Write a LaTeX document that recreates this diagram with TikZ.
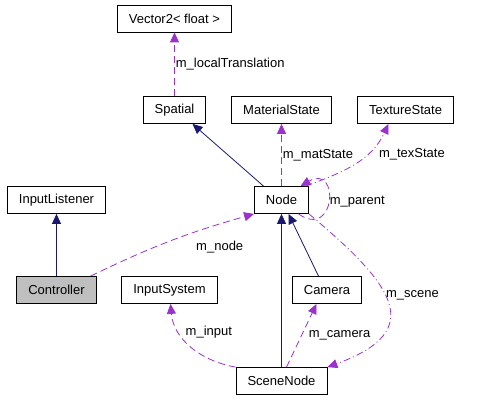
\documentclass[tikz,border=0pt]{standalone}
\usepackage{fontspec}
\setmainfont{Liberation Sans}
\usepackage{tikz}
\usetikzlibrary{arrows.meta}
\definecolor{inhcol}{HTML}{191970}
\definecolor{usecol}{HTML}{9A32CD}
\definecolor{ctlfill}{HTML}{BFBFBF}

\begin{document}
\begin{tikzpicture}[x=1pt,y=1pt,->,>={Triangle[length=10pt,width=9pt]},node distance=90pt,
		line width=0.8pt,font=\fontsize{13pt}{15pt}\selectfont]
		\tikzstyle{class}=[draw=black,fill=white,text=black,rectangle,minimum height=27pt,inner xsep=11.5pt,inner ysep=0pt]
		\tikzstyle{inherit}=[inhcol]
		\tikzstyle{usage}=[usecol,dash pattern=on 7pt off 4pt]
		\tikzstyle{usage2}=[usecol,dash pattern=on 7pt off 3pt on 1pt off 3pt]
		\tikzstyle{lbl}=[text=black,inner sep=1pt]
		
		\useasboundingbox (0,0) rectangle (479,400);
		
		\node[class] (vec) at (174.5,381.5) {Vector2< float >};
		\node[class] (spatial) [below of=vec,node distance=91.5pt] {Spatial};
		\node[class] (matstate) [right of=spatial,node distance=107pt] {MaterialState};
		\node[class] (texstate) [right of=matstate,node distance=124pt] {TextureState};
		\node[class] (node) [below of=matstate] {Node};
		\node[class] (listener) [left of=node,node distance=225pt] {InputListener};
		\node[class,fill=ctlfill] (controller) [below of=listener] {Controller};
		\node[class] (inputsys) [right of=controller,node distance=113pt] {InputSystem};
		\node[class] (camera) [right of=inputsys,node distance=157.5pt] {Camera};
		\node[class] (scenenode) [below of=node,node distance=181pt] {SceneNode};
		
		
		\path[inherit]
		([xshift=-18pt]node.north) edge ([xshift=18pt]spatial.south)
		(controller) edge (listener)
		(scenenode) edge (node)
		([xshift=-8.5pt]camera.north) edge ([xshift=7pt]node.south);
		\path[usage]
		(spatial) edge node[lbl,right] {m\_localTranslation} (vec)
		(node) edge node[lbl,right] {m\_matState} (matstate)
		([xshift=-6pt]controller.north east) edge [bend left=5] node[lbl,pos=0.6,below right,xshift=9pt,yshift=-4pt] {m\_node} (node.south west)
		(scenenode.north west) edge [out=170,in=-85] node[lbl,pos=0.7,right,xshift=5pt] {m\_input} ([xshift=1pt]inputsys.south)
		([xshift=5pt]scenenode.north) edge node[lbl,right=6pt] {m\_camera} ([xshift=-10.5pt]camera.south);
		\path[usage]
		([xshift=17pt]node.south) edge [out=-35,in=30,looseness=4.2] node[lbl,right] {m\_parent} ([xshift=19pt]node.north);
		\path[usage2]
		([xshift=24pt]node.north) edge [out=20,in=-115] node[lbl,pos=0.65,right,xshift=11pt] {m\_texState} ([xshift=-17pt]texstate.south)
		(node.south east) edge [out=-40,in=20,looseness=1.8] node[lbl,pos=0.45,right] {m\_scene} (scenenode.north east);
\end{tikzpicture}
\end{document}
